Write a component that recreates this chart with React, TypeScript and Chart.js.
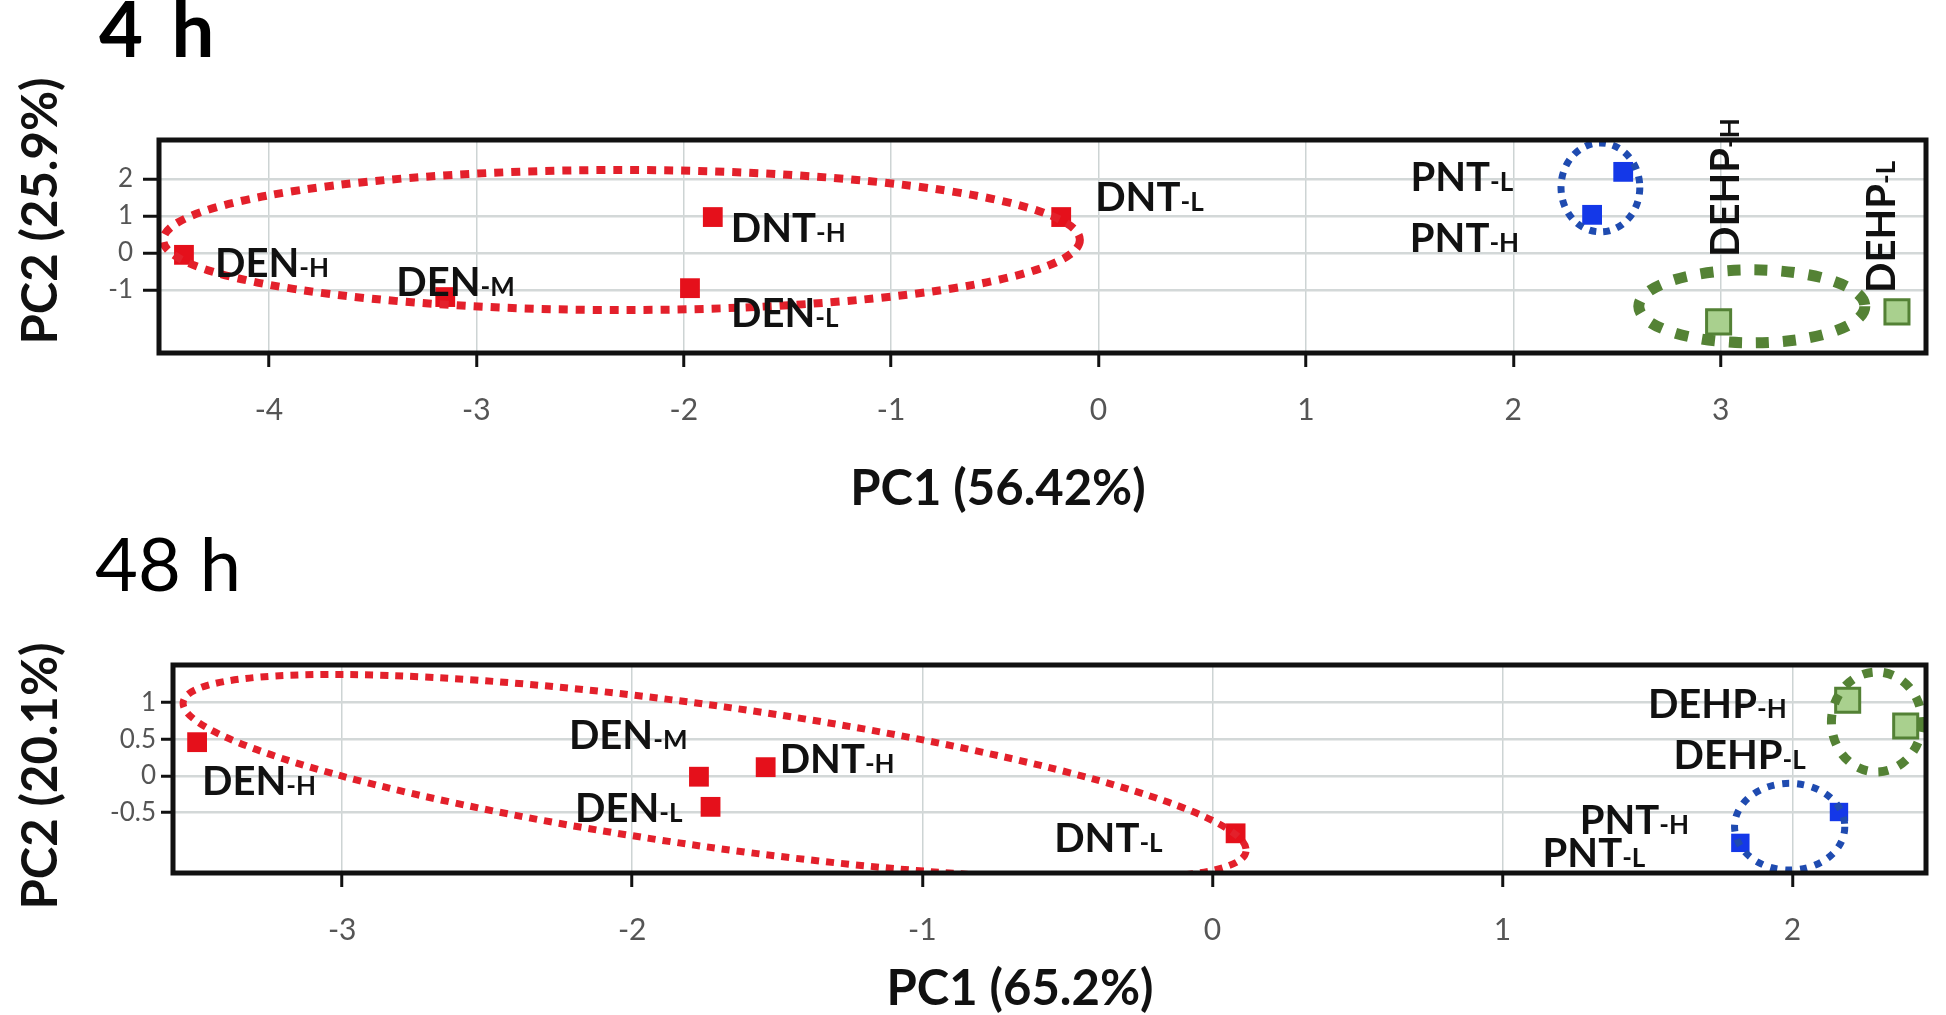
import React, { useEffect, useRef } from 'react';
import { Chart, registerables } from 'chart.js';

Chart.register(...registerables);

// ================= DATA =================
// ---- 4 h panel ----
const title4h = '4 h';
const xTitle4h = 'PC1 (56.42%)';
const yTitle4h = 'PC2 (25.9%)';
const xTicks4h = [-4, -3, -2, -1, 0, 1, 2, 3];
const yTicks4h = [-1, 0, 1, 2];
const denLabels4h = ['DEN-H', 'DEN-M', 'DEN-L', 'DNT-H', 'DNT-L'];
const denPC1_4h = [-4.41, -3.15, -1.97, -1.86, -0.18];
const denPC2_4h = [-0.05, -1.19, -0.95, 0.97, 0.97];
const pntLabels4h = ['PNT-L', 'PNT-H'];
const pntPC1_4h = [2.53, 2.38];
const pntPC2_4h = [2.19, 1.03];
const dehpLabels4h = ['DEHP-H', 'DEHP-L'];
const dehpPC1_4h = [2.99, 3.85];
const dehpPC2_4h = [-1.86, -1.59];
// group ellipses: [centre PC1, centre PC2, radius PC1, radius PC2, tilt (deg)]
const denEllipse4h = [-2.3, 0.35, 2.21, 1.89, 0];
const pntEllipse4h = [2.42, 1.77, 0.19, 1.2, 0];
const dehpEllipse4h = [3.15, -1.44, 0.545, 0.985, 0];

// ---- 48 h panel ----
const title48h = '48 h';
const xTitle48h = 'PC1 (65.2%)';
const yTitle48h = 'PC2 (20.1%)';
const xTicks48h = [-3, -2, -1, 0, 1, 2];
const yTicks48h = [-0.5, 0, 0.5, 1];
const denLabels48h = ['DEN-H', 'DEN-M', 'DEN-L', 'DNT-H', 'DNT-L'];
const denPC1_48h = [-3.5, -1.77, -1.73, -1.54, 0.08];
const denPC2_48h = [0.46, -0.01, -0.42, 0.12, -0.78];
const pntLabels48h = ['PNT-H', 'PNT-L'];
const pntPC1_48h = [2.16, 1.82];
const pntPC2_48h = [-0.49, -0.91];
const dehpLabels48h = ['DEHP-H', 'DEHP-L'];
const dehpPC1_48h = [2.19, 2.39];
const dehpPC2_48h = [1.03, 0.68];
const denEllipse48h = [-1.716, -0.01, 1.85, 0.96, 8];
const pntEllipse48h = [1.99, -0.69, 0.19, 0.59, 0];
const dehpEllipse48h = [2.29, 0.735, 0.156, 0.68, 0];

// ================= STYLE / LAYOUT =================
const W = 1946;
const FONT = 'Lato, "Open Sans", sans-serif';
const RED = '#e5101b';
const RED_DOT = '#e3202b';
const BLUE = '#1438e8';
const BLUE_DOT = '#1f4bb0';
const GREEN_FILL = '#a9d08e';
const GREEN_EDGE = '#538135';
const GREEN_DOT = '#548235';

type Align = 'left' | 'right' | 'up';
type LabelPos = [number, number, Align];

// label offsets (px) from marker centre
const denPos4h: LabelPos[] = [[31, 8, 'left'], [-49, -15, 'left'], [41, 24, 'left'], [18, 11, 'left'], [34, -20, 'left']];
const pntPos4h: LabelPos[] = [[-110, 5, 'right'], [-73, 23, 'right']];
const dehpPos4h: LabelPos[] = [[6, -65, 'up'], [-16, -19, 'up']];
const denPos48h: LabelPos[] = [[5, 38, 'left'], [-130, -42, 'left'], [-28, 1, 'right'], [14, -9, 'left'], [-73, 4, 'right']];
const pntPos48h: LabelPos[] = [[-150, 8, 'right'], [-95, 10, 'right']];
const dehpPos48h: LabelPos[] = [[-61, 3, 'right'], [-100, 29, 'right']];

interface EllipseStyle { color: string; width: number; dash: number[] }

interface Spec {
  id: string;
  canvasTop: number;
  height: number;
  area: { left: number; right: number; top: number; bottom: number };
  xRange: [number, number];
  yRange: [number, number];
  xTicks: number[];
  yTicks: number[];
  yTickLen: number;
  yTickPad: number;
  xTickPad: number;
  title: string;
  titleFont: string;
  titleX: number;
  titleBase: number;
  titleWordSpacing: string;
  xTitle: string;
  xTitleX: number;
  xTitleBase: number;
  yTitle: string;
  yTitleBaseX: number;
  yTitleY: number;
  groups: {
    labels: string[]; xs: number[]; ys: number[]; pos: LabelPos[];
    fill: string; edge: string; edgeW: number; radius: number;
    ellipse: number[]; es: EllipseStyle;
  }[];
}

const spec4h: Spec = {
  id: 'p4h', canvasTop: 0, height: 520,
  area: { left: 157, right: 1932, top: 140, bottom: 353 },
  xRange: [-4.54, 3.99], yRange: [-2.7, 3.05],
  xTicks: xTicks4h, yTicks: yTicks4h, yTickLen: 14, yTickPad: 10, xTickPad: 25,
  title: title4h, titleFont: `bold 76px ${FONT}`, titleX: 99, titleBase: 57, titleWordSpacing: '10px',
  xTitle: xTitle4h, xTitleX: 998, xTitleBase: 505,
  yTitle: yTitle4h, yTitleBaseX: 57, yTitleY: 211,
  groups: [
    { labels: denLabels4h, xs: denPC1_4h, ys: denPC2_4h, pos: denPos4h, fill: RED, edge: RED, edgeW: 0, radius: 14,
      ellipse: denEllipse4h, es: { color: RED_DOT, width: 8, dash: [9, 8] } },
    { labels: pntLabels4h, xs: pntPC1_4h, ys: pntPC2_4h, pos: pntPos4h, fill: BLUE, edge: BLUE, edgeW: 0, radius: 14,
      ellipse: pntEllipse4h, es: { color: BLUE_DOT, width: 7, dash: [7, 7] } },
    { labels: dehpLabels4h, xs: dehpPC1_4h, ys: dehpPC2_4h, pos: dehpPos4h, fill: GREEN_FILL, edge: GREEN_EDGE, edgeW: 3, radius: 17,
      ellipse: dehpEllipse4h, es: { color: GREEN_DOT, width: 11, dash: [13, 14] } },
  ],
};

const spec48h: Spec = {
  id: 'p48h', canvasTop: 520, height: 495,
  area: { left: 171, right: 1934, top: 145, bottom: 353 },
  xRange: [-3.59, 2.46], yRange: [-1.32, 1.51],
  xTicks: xTicks48h, yTicks: yTicks48h, yTickLen: 10, yTickPad: 5, xTickPad: 25,
  title: title48h, titleFont: `74px ${FONT}`, titleX: 95, titleBase: 71, titleWordSpacing: '0px',
  xTitle: xTitle48h, xTitleX: 1020, xTitleBase: 485,
  yTitle: yTitle48h, yTitleBaseX: 57, yTitleY: 256,
  groups: [
    { labels: denLabels48h, xs: denPC1_48h, ys: denPC2_48h, pos: denPos48h, fill: RED, edge: RED, edgeW: 0, radius: 14,
      ellipse: denEllipse48h, es: { color: RED_DOT, width: 7, dash: [8, 7] } },
    { labels: pntLabels48h, xs: pntPC1_48h, ys: pntPC2_48h, pos: pntPos48h, fill: BLUE, edge: BLUE, edgeW: 0, radius: 13,
      ellipse: pntEllipse48h, es: { color: BLUE_DOT, width: 7, dash: [7, 8] } },
    { labels: dehpLabels48h, xs: dehpPC1_48h, ys: dehpPC2_48h, pos: dehpPos48h, fill: GREEN_FILL, edge: GREEN_EDGE, edgeW: 3, radius: 17,
      ellipse: dehpEllipse48h, es: { color: GREEN_DOT, width: 9, dash: [10, 11] } },
  ],
};

// ================= DRAWING HELPERS =================
const LABEL_PX = 40;
const SMALL_PX = 26;

function drawPointLabel(ctx: CanvasRenderingContext2D, text: string, x: number, y: number, align: Align) {
  const i = text.lastIndexOf('-');
  const main = text.slice(0, i);
  const suf = text.slice(i);
  ctx.save();
  ctx.translate(x, y);
  if (align === 'up') ctx.rotate(-Math.PI / 2);
  const big = `bold ${LABEL_PX}px ${FONT}`;
  const small = `bold ${SMALL_PX}px ${FONT}`;
  ctx.font = big;
  const w1 = ctx.measureText(main).width;
  ctx.font = small;
  const w2 = ctx.measureText(suf).width;
  const total = w1 + w2;
  const x0 = align === 'right' ? -total : 0;
  const base = LABEL_PX * 0.36;
  ctx.fillStyle = '#111';
  ctx.textAlign = 'left';
  ctx.textBaseline = 'alphabetic';
  ctx.font = big;
  ctx.fillText(main, x0, base);
  ctx.font = small;
  ctx.fillText(suf, x0 + w1, base);
  ctx.restore();
}

function panelPlugin(spec: Spec) {
  return {
    id: 'panel_' + spec.id,
    afterDatasetsDraw(chart: any) {
      const { ctx, chartArea: a, scales } = chart;
      const xs = scales.x;
      const ys = scales.y;
      // group ellipses
      ctx.save();
      ctx.beginPath();
      ctx.rect(a.left, a.top, a.right - a.left, a.bottom - a.top);
      ctx.clip();
      for (const g of spec.groups) {
        const [cx, cy, rx, ry, rot] = g.ellipse;
        const px = xs.getPixelForValue(cx);
        const py = ys.getPixelForValue(cy);
        const prx = Math.abs(xs.getPixelForValue(cx + rx) - px);
        const pry = Math.abs(ys.getPixelForValue(cy + ry) - py);
        ctx.beginPath();
        ctx.ellipse(px, py, prx, pry, (rot * Math.PI) / 180, 0, Math.PI * 2);
        ctx.setLineDash(g.es.dash);
        ctx.lineCap = 'butt';
        ctx.lineWidth = g.es.width;
        ctx.strokeStyle = g.es.color;
        ctx.stroke();
      }
      ctx.restore();

      // point labels
      for (const g of spec.groups) {
        g.labels.forEach((lab, i) => {
          const px = xs.getPixelForValue(g.xs[i]);
          const py = ys.getPixelForValue(g.ys[i]);
          const [dx, dy, al] = g.pos[i];
          drawPointLabel(ctx, lab, px + dx, py + dy, al);
        });
      }

      // plot frame
      ctx.save();
      ctx.setLineDash([]);
      ctx.strokeStyle = '#111';
      ctx.lineWidth = 5;
      ctx.strokeRect(a.left + 2, a.top, a.right - a.left - 2, a.bottom - a.top);
      ctx.restore();
    },
    afterDraw(chart: any) {
      const { ctx } = chart;
      ctx.save();
      ctx.fillStyle = '#000';
      ctx.textBaseline = 'alphabetic';
      // panel title
      ctx.font = spec.titleFont;
      ctx.textAlign = 'left';
      (ctx as any).wordSpacing = spec.titleWordSpacing;
      ctx.fillText(spec.title, spec.titleX, spec.titleBase);
      (ctx as any).wordSpacing = '0px';
      // axis titles
      ctx.font = `bold 49px ${FONT}`;
      ctx.textAlign = 'center';
      ctx.fillStyle = '#111';
      ctx.fillText(spec.xTitle, spec.xTitleX, spec.xTitleBase);
      ctx.translate(spec.yTitleBaseX, spec.yTitleY);
      ctx.rotate(-Math.PI / 2);
      ctx.fillText(spec.yTitle, 0, 0);
      ctx.restore();
    },
  };
}

function buildConfig(spec: Spec): any {
  const datasets = spec.groups.map((g) => ({
    data: g.xs.map((x, i) => ({ x, y: g.ys[i] })),
    pointStyle: 'rect',
    pointRadius: g.radius,
    pointHoverRadius: g.radius,
    backgroundColor: g.fill,
    borderColor: g.edge,
    borderWidth: g.edgeW,
    showLine: false,
  }));
  const a = spec.area;
  return {
    type: 'scatter',
    data: { datasets },
    options: {
      animation: false,
      responsive: false,
      maintainAspectRatio: false,
      events: [],
      layout: { padding: { left: 0, top: a.top, right: W - a.right, bottom: 0 } },
      plugins: { legend: { display: false }, tooltip: { enabled: false }, title: { display: false } },
      scales: {
        x: {
          type: 'linear',
          position: 'bottom',
          min: spec.xRange[0],
          max: spec.xRange[1],
          afterBuildTicks: (s: any) => { s.ticks = spec.xTicks.map((v) => ({ value: v })); },
          afterFit: (s: any) => { s.height = spec.height - a.bottom; },
          grid: { color: '#cdd4d4', lineWidth: 1.5, drawTicks: true, tickLength: 14, tickColor: '#111', tickWidth: 3 },
          border: { display: false },
          ticks: {
            color: '#555', font: { family: FONT, size: 30 }, padding: spec.xTickPad,
            autoSkip: false, maxRotation: 0, minRotation: 0, includeBounds: false,
            callback: (v: any) => String(v),
          },
        },
        y: {
          type: 'linear',
          position: 'left',
          min: spec.yRange[0],
          max: spec.yRange[1],
          afterBuildTicks: (s: any) => { s.ticks = spec.yTicks.map((v) => ({ value: v })); },
          afterFit: (s: any) => { s.width = a.left; },
          grid: { color: '#d3d8d8', lineWidth: 2.5, drawTicks: true, tickLength: spec.yTickLen, tickColor: '#111', tickWidth: 3 },
          border: { display: false },
          ticks: {
            color: '#555', font: { family: FONT, size: 26 }, padding: spec.yTickPad,
            autoSkip: false, includeBounds: false,
            callback: (v: any) => String(v),
          },
        },
      },
    },
    plugins: [panelPlugin(spec)],
  };
}

function Panel({ spec }: { spec: Spec }) {
  const ref = useRef<HTMLCanvasElement>(null);
  useEffect(() => {
    const chart = new Chart(ref.current as HTMLCanvasElement, buildConfig(spec));
    return () => chart.destroy();
  }, [spec]);
  return (
    <canvas
      ref={ref}
      width={W}
      height={spec.height}
      style={{ position: 'absolute', left: 0, top: spec.canvasTop, width: W, height: spec.height, display: 'block' }}
    />
  );
}

export default function App() {
  return (
    <div style={{ position: 'absolute', left: 0, top: 0, width: W, height: 1015, background: '#fff', overflow: 'hidden' }}>
      <Panel spec={spec4h} />
      <Panel spec={spec48h} />
    </div>
  );
}
